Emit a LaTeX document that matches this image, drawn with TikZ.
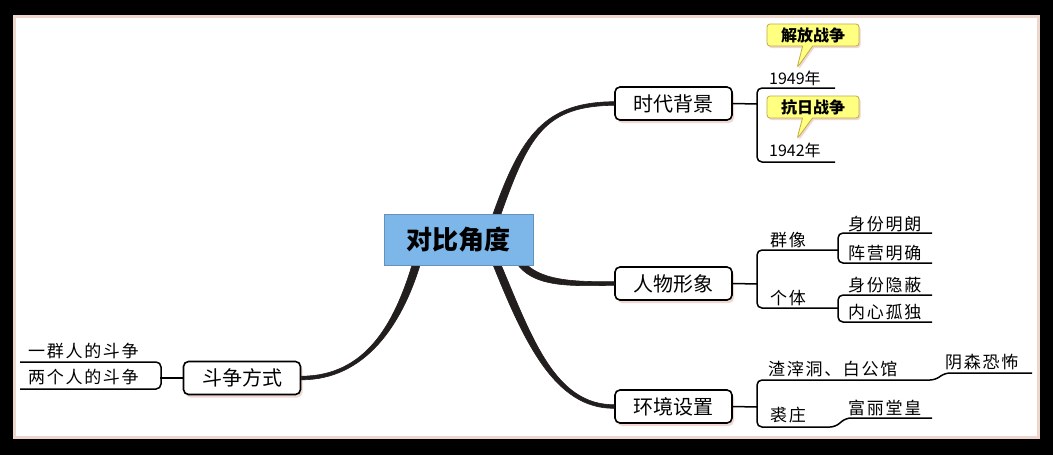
\documentclass[tikz,border=0pt]{standalone}
\usepackage{fontspec}
\setmainfont{Noto Sans CJK SC}
\newfontfamily\leaffont{Noto Sans CJK SC}[LetterSpace=10]
\usetikzlibrary{shapes.callouts,shadows,calc}
\definecolor{pinkedge}{RGB}{238,214,205}
\definecolor{shadowpink}{RGB}{240,215,210}
\definecolor{centerblue}{RGB}{125,183,234}
\definecolor{callyellow}{RGB}{255,255,128}
\definecolor{calledge}{RGB}{190,170,70}
\definecolor{branchcol}{RGB}{35,30,30}
\begin{document}
\begin{tikzpicture}[x=1pt,y=-1pt,
  mainbox/.style={draw=black, line width=1.6pt, rounded corners=5pt, fill=white,
    minimum width=117pt, minimum height=33pt, inner sep=0pt,
    font=\fontsize{20}{20}\selectfont,
    drop shadow={shadow xshift=2pt, shadow yshift=-3pt, fill=shadowpink, opacity=1}},
  centerbox/.style={fill=centerblue, draw=centerblue!80!black, line width=0.5pt,
    minimum width=149pt, minimum height=51pt, inner sep=0pt,
    font=\bfseries\fontsize{26}{26}\selectfont},
  callbox/.style={rectangle callout, fill=callyellow, draw=calledge, line width=0.8pt,
    rounded corners=3pt, minimum width=92pt, minimum height=22pt, inner sep=0pt,
    callout pointer width=10pt, font=\bfseries\fontsize{16}{16}\selectfont,
    drop shadow={shadow xshift=1.5pt, shadow yshift=-2pt, fill=shadowpink, opacity=1}},
  leaf/.style={anchor=base west, inner sep=0pt, font=\leaffont\fontsize{17}{17}\selectfont},
  yearleaf/.style={anchor=base west, inner sep=0pt, font=\fontsize{16}{16}\selectfont},
  branch/.style={fill=branchcol, draw=branchcol, line width=0.6pt, line join=round},
  subline/.style={draw=black, line width=1.5pt, rounded corners=5pt}]
\fill[black] (0,0) rectangle (1053,455);
\useasboundingbox (0,0) rectangle (1053,455);
\fill[pinkedge] (13,15) rectangle (1040,439);
\fill[white] (16,18) rectangle (1037,436);

% main nodes (boxes drawn after branches)
\coordinate (c0) at (458.5,239.5);
\node[mainbox] (t) at (673.5,103.5) {时代背景};
\node[mainbox] (p) at (673.5,283.5) {人物形象};
\node[mainbox] (e) at (673.5,406.5) {环境设置};
\node[mainbox] (f) at (242,378) {斗争方式};

% tapered branches
\coordinate (bt) at ($(c0)+(38,-24)$);
\coordinate (bp) at ($(c0)+(60,24)$);
\coordinate (be) at ($(c0)+(38,24)$);
\coordinate (bf) at ($(c0)+(-42,24)$);
\path[branch] ($(bt)+(-4,0)$) .. controls (521,135) and (545,102) .. ($(t.west)+(0,-1.8)$)
   -- ($(t.west)+(0,1.8)$) .. controls (545,106) and (529,135) .. ($(bt)+(4,0)$) -- cycle;
\path[branch] ($(bp)+(-3,-2)$) .. controls (532,288) and (570,286) .. ($(p.west)+(0,1.8)$)
   -- ($(p.west)+(0,-1.8)$) .. controls (570,282) and (540,280) .. ($(bp)+(5,-2)$) -- cycle;
\path[branch] ($(be)+(-4,0)$) .. controls (524,342) and (555,409) .. ($(e.west)+(0,1.8)$)
   -- ($(e.west)+(0,-1.8)$) .. controls (555,405) and (532,338) .. ($(be)+(4,0)$) -- cycle;
\path[branch] ($(bf)+(-4,0)$) .. controls (394,325) and (365,376) .. ($(f.east)+(0,-1.8)$)
   -- ($(f.east)+(0,1.8)$) .. controls (365,380) and (402,325) .. ($(bf)+(4,0)$) -- cycle;
\node[centerbox] (c) at (c0) {对比角度};

% time background
\coordinate (tj) at (757,104);
\coordinate (t1) at (835,88);
\coordinate (t2) at (835,162);
\draw[subline] (t.east) -- (tj);
\draw[subline] (t1) -- (757,88) -- (757,162) -- (t2);
\node[yearleaf] (y1) at (769,84) {1949年};
\node[yearleaf] (y2) at (769,156) {1942年};
\coordinate (cp1) at (797,68);
\coordinate (cp2) at (797,139);
\node[callbox, callout absolute pointer={(cp1)}] (k1) at (813,35) {解放战争};
\node[callbox, callout absolute pointer={(cp2)}] (k2) at (813,107) {抗日战争};

% characters
\coordinate (pj) at (757,284);
\coordinate (pg) at (838,250);
\coordinate (pi) at (838,308);
\coordinate (pa) at (932,233);
\coordinate (pb) at (932,263);
\coordinate (pc) at (932,295);
\coordinate (pd) at (932,322);
\draw[subline] (p.east) -- (pj);
\draw[subline] (pg) -- (757,250) -- (757,308) -- (pi);
\draw[subline] (pa) -- (838,233) -- (838,263) -- (pb);
\draw[subline] (pc) -- (838,295) -- (838,322) -- (pd);
\node[leaf] (q1) at (770,246) {群像};
\node[leaf] (q2) at (770,304) {个体};
\node[leaf] (q3) at (848,230) {身份明朗};
\node[leaf] (q4) at (848,259) {阵营明确};
\node[leaf] (q5) at (848,291) {身份隐蔽};
\node[leaf] (q6) at (848,318) {内心孤独};

% environment
\coordinate (ej) at (757,407);
\coordinate (ea) at (1032,373);
\coordinate (eb) at (932,418);
\draw[subline] (e.east) -- (ej);
\draw[subline] (ea) -- (945,373) -- (935,380) -- (757,380) -- (757,427) -- (835,427) -- (846,418) -- (eb);
\node[leaf] (r1) at (768,375) {渣滓洞、白公馆};
\node[leaf] (r2) at (945,368) {阴森恐怖};
\node[leaf] (r3) at (770,421) {裘庄};
\node[leaf] (r4) at (848,414) {富丽堂皇};

% struggle
\coordinate (fj) at (160,378);
\coordinate (fa) at (20,362);
\coordinate (fb) at (20,389);
\draw[subline] (f.west) -- (fj);
\draw[subline] (fa) -- (161,362) -- (161,389) -- (fb);
\node[leaf] (s1) at (28,357) {一群人的斗争};
\node[leaf] (s2) at (28,383) {两个人的斗争};
\end{tikzpicture}
\end{document}
